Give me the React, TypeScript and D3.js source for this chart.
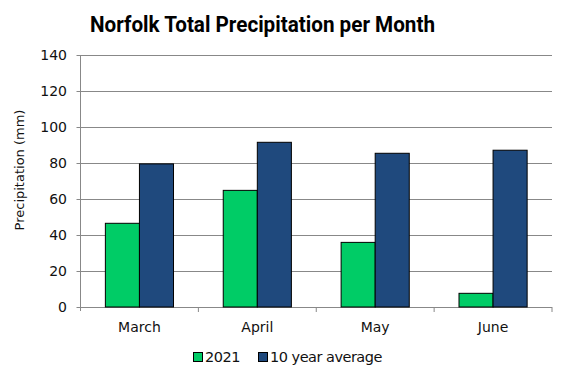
import React from "react";
import * as d3 from "d3";

const categories = ["March", "April", "May", "June"];
const seriesNames = ["2021", "10 year average"];
const values2021 = [46.5, 64.8, 35.9, 7.6];
const valuesAvg = [79.5, 91.5, 85.4, 87.1];
const yTicks = [0, 20, 40, 60, 80, 100, 120, 140];
const colors = ["#00CC66", "#1F497D"];

const W = 567, H = 378;
const left = 80.5, right = 552, top = 55, bottom = 307;
const FONT = "'DejaVu Sans', Verdana, sans-serif";
const TEXT = "#111";

export default function App() {
  const x0 = d3.scaleBand<string>().domain(categories).range([left, right]).paddingInner(0).paddingOuter(0);
  const x1 = d3.scaleBand<string>().domain(seriesNames).range([0, x0.bandwidth()]).paddingInner(0).paddingOuter(0.73);
  const y = d3.scaleLinear().domain([0, 140]).range([bottom, top]);
  const series = [values2021, valuesAvg];

  return (
    <svg width={W} height={H} style={{ position: "absolute", left: 0, top: 0, background: "#fff" }}>
      <text x={90} y={32} textLength={345} lengthAdjust="spacingAndGlyphs" fontFamily="Roboto, 'DejaVu Sans', sans-serif" fontWeight="bold" fontSize={21.5} fill="#000">
        Norfolk Total Precipitation per Month
      </text>
      {yTicks.map((t) => (
        <g key={t}>
          <line x1={left - 4} x2={right} y1={Math.round(y(t)) + 0.5} y2={Math.round(y(t)) + 0.5} stroke="#888" strokeWidth={1} />
          <text x={67} y={y(t) + 5} textAnchor="end" fontFamily={FONT} fontSize={14} fill={TEXT}>{t}</text>
        </g>
      ))}
      <line x1={left} x2={left} y1={top} y2={bottom + 4} stroke="#888" />
      {categories.map((c, i) => (
        <line key={"tk" + i} x1={x0(c)! + x0.bandwidth()} x2={x0(c)! + x0.bandwidth()} y1={bottom} y2={bottom + 5} stroke="#888" />
      ))}
      {categories.map((c, i) => (
        <g key={c}>
          {series.map((vals, s) => (
            <rect key={s}
              x={x0(c)! + x1(seriesNames[s])!}
              y={y(vals[i])}
              width={x1.bandwidth()}
              height={y(0) - y(vals[i])}
              fill={colors[s]} stroke="#000" strokeWidth={1} />
          ))}
          <text x={x0(c)! + x0.bandwidth() / 2} y={332} textAnchor="middle" fontFamily={FONT} fontSize={14} fill={TEXT}>{c}</text>
        </g>
      ))}
      <text transform={`translate(24,170) rotate(-90)`} textAnchor="middle" fontFamily={FONT} fontSize={13} fill={TEXT}>
        Precipitation (mm)
      </text>
      {seriesNames.map((n, s) => {
        const lx = [193, 258][s];
        return (
          <g key={n}>
            <rect x={lx + 0.5} y={352.5} width={9} height={9} fill={colors[s]} stroke="#000" />
            <text x={lx + 12} y={362} fontFamily={FONT} fontSize={14.5} letterSpacing={-0.5} fill={TEXT}>{n}</text>
          </g>
        );
      })}
    </svg>
  );
}
